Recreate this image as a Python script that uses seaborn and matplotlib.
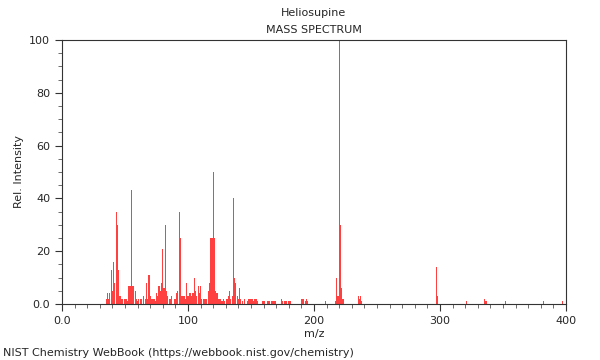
import matplotlib
matplotlib.use('Agg')
import matplotlib.pyplot as plt
from matplotlib.ticker import MultipleLocator, FixedFormatter, FixedLocator
import seaborn as sns
import pandas as pd

#peak lists (m/z, rel. intensity)
mz_a = [35, 36, 37, 38, 39, 40, 41, 42, 43, 44, 45, 46, 47, 48, 50, 51, 52, 53, 54, 55,
        56, 57, 58, 59, 60, 61, 62, 63, 65, 66, 67, 68, 69, 70, 71, 72, 73, 74, 75, 76,
        77, 78, 79, 80, 81, 82, 83, 84, 85, 86, 87, 89, 90, 91, 92, 93, 94, 95, 96, 97, 98, 99]
int_a = [2, 4, 2, 4, 13, 5, 16, 8, 35, 30, 13, 3, 2, 2, 2, 2, 1, 7, 7, 43,
         7, 7, 5, 2, 1, 2, 2, 2, 3, 2, 8, 2, 11, 3, 2, 2, 2, 1, 4, 3,
         7, 5, 8, 21, 6, 30, 5, 3, 2, 2, 3, 2, 2, 4, 5, 35, 25, 3, 3, 3, 2, 8]

mz_b = [100, 101, 102, 103, 104, 105, 106, 107, 108, 109, 110, 111, 112, 113, 114, 115, 116, 117,
        118, 119, 120, 121, 122, 123, 124, 125, 126, 127, 128, 129, 131, 132, 133, 134, 135,
        136, 137, 138, 139, 140, 141, 142, 143, 145, 147, 148, 149, 150, 151, 152, 153, 154, 155]
int_b = [3, 4, 4, 3, 4, 10, 5, 3, 7, 4, 7, 2, 2, 2, 2, 2, 5, 8,
         25, 25, 50, 25, 5, 4, 2, 2, 2, 1, 2, 1, 2, 3, 5, 2, 3,
         40, 10, 8, 3, 2, 6, 2, 1, 2, 1, 2, 2, 2, 2, 1, 2, 2, 1]

mz_c = [159, 160, 161, 163, 164, 165, 166, 167, 168, 169, 174, 175, 177, 178, 180, 181,
        190, 191, 192, 193, 194, 195, 209, 217, 218, 219, 220, 221, 222, 223,
        235, 236, 237, 238, 297, 298, 321, 335, 336, 337, 352, 382, 397]
int_c = [1, 1, 1, 1, 1, 1, 1, 1, 1, 1, 2, 1, 1, 1, 1, 1,
         2, 2, 2, 1, 2, 1, 1, 1, 10, 3, 100, 30, 6, 2,
         3, 2, 3, 1, 14, 3, 1, 2, 1, 1, 1, 1, 1]

df = pd.DataFrame({'mz': mz_a + mz_b + mz_c, 'rel': int_a + int_b + int_c})

sns.set_style('ticks')
plt.rcParams['font.family'] = ['DejaVu Sans']

fig = plt.figure(figsize=(6, 3.6), dpi=100)
ax = fig.add_axes([62/600, 1-304/360, 504/600, 264/360])

sns.barplot(data=df, x='mz', y='rel', native_scale=True, color='#ff0000',
            errorbar=None, width=0.9, linewidth=0, saturation=1, alpha=0.75, ax=ax)

ax.set_xlim(0, 400)
ax.set_ylim(0, 100)
ax.xaxis.set_major_locator(FixedLocator([0, 100, 200, 300, 400]))
ax.xaxis.set_major_formatter(FixedFormatter(['0.0', '100', '200', '300', '400']))
ax.xaxis.set_minor_locator(MultipleLocator(10))
ax.yaxis.set_major_locator(FixedLocator([0, 20, 40, 60, 80, 100]))
ax.yaxis.set_major_formatter(FixedFormatter(['0.0', '20', '40', '60', '80', '100']))
ax.yaxis.set_minor_locator(MultipleLocator(5))
ax.tick_params(which='major', length=5, width=0.8, labelsize=8, direction='out', color='#333333')
ax.tick_params(which='minor', length=3, width=0.6, direction='out', color='#555555')
for s in ax.spines.values():
    s.set_visible(True)
    s.set_linewidth(0.8)
    s.set_color('#333333')

ax.set_xlabel('m/z', fontsize=8, labelpad=2)
ax.set_ylabel('Rel. Intensity', fontsize=8, labelpad=4)

fig.text(314/600, 1-13/360, 'Heliosupine', ha='center', va='center', fontsize=8)
fig.text(314/600, 1-30/360, 'MASS SPECTRUM', ha='center', va='center', fontsize=8)
fig.text(3/600, 1-353/360, 'NIST Chemistry WebBook (https://webbook.nist.gov/chemistry)',
         ha='left', va='center', fontsize=8)

fig.savefig('out.png', dpi=100)
